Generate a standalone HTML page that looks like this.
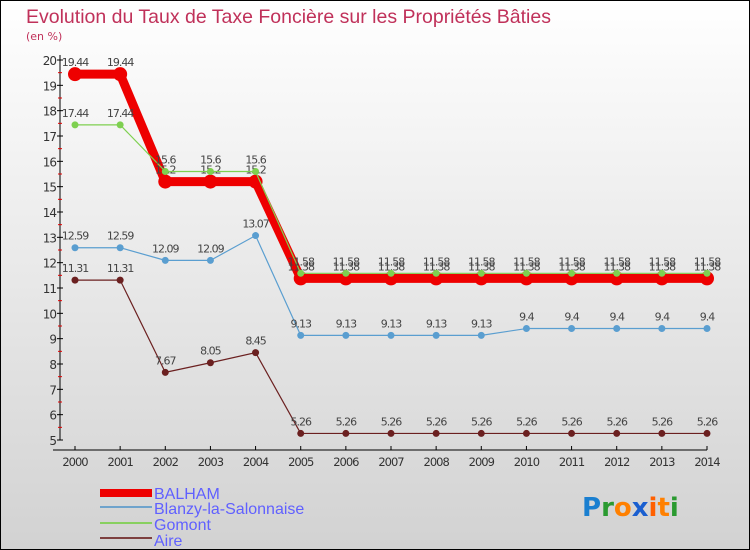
<!DOCTYPE html>
<html><head><meta charset="utf-8"><style>
body{margin:0}
#wrap{width:750px;height:550px;position:relative;overflow:hidden;font-family:"DejaVu Sans","Liberation Sans",sans-serif}
</style></head><body>
<div id="wrap">
<svg id="chart" width="750" height="550">
<defs><linearGradient id="bg" x1="0" y1="0" x2="0" y2="1"><stop offset="0" stop-color="#ffffff"/><stop offset="1" stop-color="#d2d2d2"/></linearGradient></defs>
<rect x="0.5" y="0.5" width="749" height="549" fill="url(#bg)" stroke="#000"/>
<text x="26" y="23" font-size="19.5" font-family="Liberation Sans, sans-serif" fill="#c0315a">Evolution du Taux de Taxe Foncière sur les Propriétés Bâties</text>
<text x="26" y="40" font-size="11" fill="#c0315a">(en %)</text>
<g id="axes"></g><g id="series"></g>
<g font-family="Liberation Sans, sans-serif">
<rect x="100" y="489" width="52" height="8" fill="#ee0000"/>
<text x="154" y="499" font-size="16" fill="#6060ff">BALHAM</text>
<rect x="100" y="506" width="52" height="2" fill="#6fa3cc"/>
<text x="154" y="514" font-size="16" fill="#6060ff">Blanzy-la-Salonnaise</text>
<rect x="100" y="522" width="52" height="2" fill="#88d060"/>
<text x="154" y="530" font-size="16" fill="#6060ff">Gomont</text>
<rect x="100" y="537" width="52" height="2" fill="#7d4040"/>
<text x="154" y="546" font-size="16" fill="#6060ff">Aire</text>
</g>
<g font-size="26" font-weight="bold">
<text x="582" y="516"><tspan fill="#1a7fd0">P</tspan><tspan fill="#2a9a30">r</tspan><tspan fill="#ff8000">o</tspan><tspan fill="#1a5fd0">x</tspan><tspan fill="#ff6000">i</tspan><tspan fill="#ff8000">t</tspan><tspan fill="#2a9a30">i</tspan></text>
</g>
</svg></div>
<script>
const years=["2000","2001","2002","2003","2004","2005","2006","2007","2008","2009","2010","2011","2012","2013","2014"];
const yTicks=[5,6,7,8,9,10,11,12,13,14,15,16,17,18,19,20];
const balham=[19.44,19.44,15.2,15.2,15.2,11.38,11.38,11.38,11.38,11.38,11.38,11.38,11.38,11.38,11.38];
const blanzy=[12.59,12.59,12.09,12.09,13.07,9.13,9.13,9.13,9.13,9.13,9.4,9.4,9.4,9.4,9.4];
const gomont=[17.44,17.44,15.6,15.6,15.6,11.58,11.58,11.58,11.58,11.58,11.58,11.58,11.58,11.58,11.58];
const aire=[11.31,11.31,7.67,8.05,8.45,5.26,5.26,5.26,5.26,5.26,5.26,5.26,5.26,5.26,5.26];
const NS="http://www.w3.org/2000/svg";
const xs=i=>75+i*(632/14);
const ys=v=>440-(v-5)*(380/15);
function mk(tag,attrs,parent){const e=document.createElementNS(NS,tag);for(const k in attrs)e.setAttribute(k,attrs[k]);parent.appendChild(e);return e;}
const ax=document.getElementById('axes');
let l=mk('line',{x1:60,y1:55,x2:60,y2:440,stroke:'#000','stroke-width':1},ax);


l=mk('line',{x1:53,y1:450,x2:707,y2:450,stroke:'#000','stroke-width':1},ax);


yTicks.forEach(v=>{
 mk('line',{x1:57,y1:ys(v),x2:63,y2:ys(v),stroke:'#000'},ax);
 if(v<20) mk('line',{x1:58,y1:ys(v+0.5),x2:62,y2:ys(v+0.5),stroke:'#e00000'},ax);
 const t=mk('text',{x:56,y:ys(v)+5,'font-size':12,fill:'#333','text-anchor':'end','letter-spacing':'-1'},ax);
 t.textContent=v;
 
 
});
years.forEach((y,i)=>{
 mk('line',{x1:xs(i),y1:446,x2:xs(i),y2:450,stroke:'#000'},ax);
 const t=mk('text',{x:xs(i),y:466,'font-size':11.5,fill:'#333','text-anchor':'middle','letter-spacing':'-1'},ax);
 t.textContent=y;
 
 
});
const sg=document.getElementById('series');
function draw(name,vals,color,w,r,fmt){
 const g=mk('g',{},sg);
 
 
 const p=mk('polyline',{points:vals.map((v,i)=>xs(i)+','+ys(v)).join(' '),fill:'none',stroke:color,'stroke-width':w,'stroke-linejoin':'round'},g);
 
 
 vals.forEach((v,i)=>{
  const c=mk('circle',{cx:xs(i),cy:ys(v),r:r,fill:color},g);
  
  
  const t=mk('text',{x:xs(i),y:ys(v)-8,'font-size':11,fill:'#444','text-anchor':'middle','letter-spacing':'-1'},g);
  t.textContent=fmt(v);
  
  
 });
}
const f=v=>String(v);
draw('aire',aire,'#6b2020',1.2,3.5,f);
draw('blanzy',blanzy,'#5a9ed0',1.2,3.5,f);
draw('balham',balham,'#ee0000',9,7,f);
draw('gomont',gomont,'#7ed050',1.2,3.5,f);
</script>
</body></html>
